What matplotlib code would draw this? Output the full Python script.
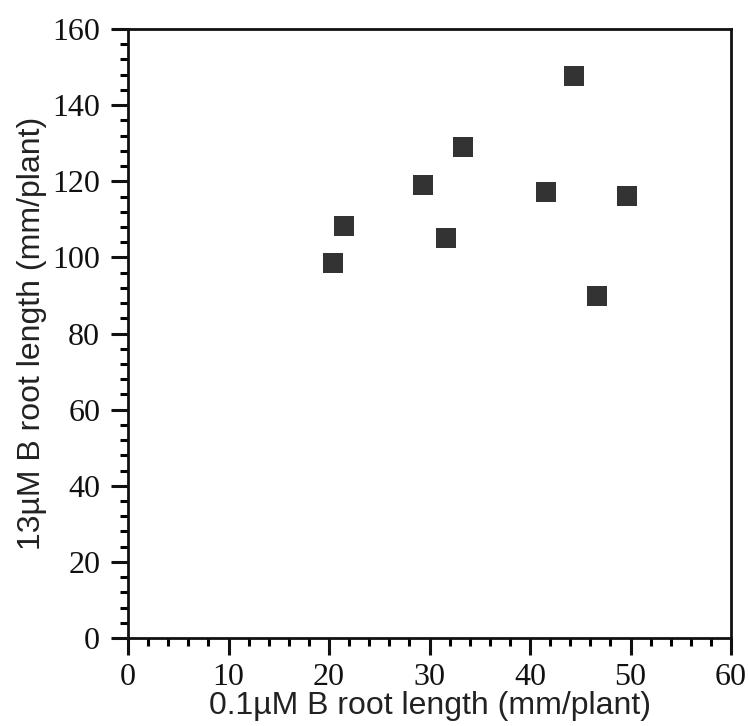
import matplotlib
matplotlib.use('Agg')
from matplotlib import pyplot as plt
from matplotlib.ticker import MultipleLocator

# root length at 0.1 uM B (x) vs 13 uM B (y), mm/plant
low_b = [44.4, 33.3, 29.4, 41.6, 49.6, 21.5, 31.6, 20.4, 46.7]
high_b = [147.7, 129.1, 119.0, 117.3, 116.2, 108.3, 105.2, 98.4, 89.9]

fig = plt.figure(figsize=(7.49, 7.26), dpi=100)
ax = fig.add_axes([0.1709, 0.1212, 0.8051, 0.8388])

ax.plot(low_b, high_b, 's', color='#333333', markersize=15, markeredgewidth=0)

ax.set_xlim(0, 60)
ax.set_ylim(0, 160)
ax.xaxis.set_major_locator(MultipleLocator(10))
ax.xaxis.set_minor_locator(MultipleLocator(2))
ax.yaxis.set_major_locator(MultipleLocator(20))
ax.yaxis.set_minor_locator(MultipleLocator(4))

ax.tick_params(which='major', direction='out', length=12, width=2.2,
               labelsize=23, colors='#111111')
ax.tick_params(axis='x', which='major', pad=6)
ax.tick_params(axis='y', which='major', pad=8)
ax.tick_params(which='minor', direction='out', length=6, width=2.2)
for lab in ax.get_xticklabels() + ax.get_yticklabels():
    lab.set_family('Liberation Serif')

for sp in ax.spines.values():
    sp.set_linewidth(2)
    sp.set_color('#111111')

ax.set_xlabel('0.1\u00b5M B root length (mm/plant)', family='Liberation Sans',
              fontsize=23, labelpad=-1, color='#222222')
ax.set_ylabel('13\u00b5M B root length (mm/plant)', family='Liberation Sans',
              fontsize=23, labelpad=4, color='#222222')

fig.savefig('out.png', dpi=100)
